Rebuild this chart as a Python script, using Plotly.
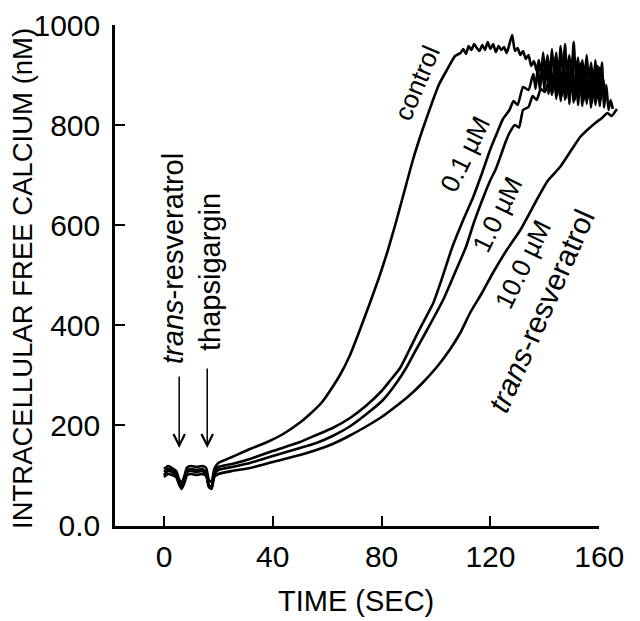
import plotly.graph_objects as go

# ---------------- data ----------------
ctrl_t = [0, 1.5, 3, 4.5, 5.5, 6.5, 7.5, 8.5, 10, 12, 14, 15.5, 16.5, 17.5, 18.5, 20,
          25, 31.6, 38, 43.8, 50, 53.7, 58, 61, 64.7, 68.4, 72, 75.7, 79, 82, 85, 88,
          91.5, 95, 98.5, 101, 104, 107, 109,
          110, 111, 112, 113, 114, 115, 116, 117, 118, 119, 120, 121, 122, 123, 124,
          125, 126, 127, 128, 129, 130, 131, 132, 133, 134, 135, 136, 137,
          137.8, 138.6, 139.4, 140.2, 141.0, 141.8, 142.6, 143.4, 144.2, 145.0, 145.8,
          146.6, 147.4, 148.2, 149.0, 149.8, 150.6, 151.4, 152.2, 153.0, 153.8, 154.6,
          155.4, 156.2, 157.0, 157.8, 158.6, 159.4, 160.2, 161.0]
ctrl_c = [112, 118, 114, 108, 92, 84, 98, 115, 118, 116, 118, 114, 90, 86, 112, 124,
          136, 152, 166, 182, 205, 222, 245, 268, 300, 340, 390, 444, 494, 544, 600, 660,
          730, 790, 844, 880, 910, 938, 944,
          952, 942, 958, 950, 962, 954, 948, 960, 950, 966, 952, 962, 946, 958, 950,
          956, 944, 962, 980, 948, 954, 940, 948, 932, 940, 918, 928, 908,
          930, 900, 945, 898, 940, 895, 952, 902, 945, 890, 958,
          905, 962, 898, 940, 895, 966, 900, 935, 888, 930, 892,
          940, 885, 925, 880, 930, 875, 915, 890]

r01_t = [0, 1.5, 3, 4.5, 5.5, 6.5, 7.5, 8.5, 10, 12, 14, 15.5, 16.5, 17.5, 18.5, 20,
         25, 31.6, 40, 50, 56, 62, 68.4, 74.6, 80, 83, 86.8, 90, 94, 99, 102, 106, 110,
         113.6, 117, 120, 122.5, 124.6, 127, 128.5, 130, 132, 134, 135.2,
         135.8, 136.6, 137.4, 138.2, 139.0, 139.8, 140.6, 141.4, 142.2, 143.0, 143.8,
         144.6, 145.4, 146.2, 147.0, 147.8, 148.6, 149.4, 150.2, 151.0, 151.8, 152.6,
         153.4, 154.2, 155.0, 155.8, 156.6, 157.4, 158.2, 159.0, 159.8, 160.6, 161.4, 162.2]
r01_c = [106, 112, 110, 104, 86, 78, 92, 110, 112, 110, 112, 106, 80, 76, 104, 116,
         122, 132, 148, 166, 180, 194, 214, 240, 268, 288, 314, 348, 392, 444, 490, 556, 610,
         655, 705, 752, 785, 812, 830, 848, 840, 876, 870, 892,
         902, 872, 915, 868, 925, 870, 930, 862, 920, 866, 935,
         860, 925, 858, 930, 855, 920, 862, 935, 850, 918, 855,
         925, 848, 910, 852, 912, 845, 905, 848, 900, 850, 892, 860]

r10_t = [0, 1.5, 3, 4.5, 5.5, 6.5, 7.5, 8.5, 10, 12, 14, 15.5, 16.5, 17.5, 18.5, 20,
         25, 31.6, 40, 50, 56, 62, 68, 74, 80.5, 85.7, 89, 92, 96.7, 102.6, 107, 111,
         114, 117, 120, 122, 124, 125.5, 127, 129, 130.5, 132, 134, 135.5, 137, 138.5,
         140, 141,
         141.8, 142.6, 143.4, 144.2, 145.0, 145.8, 146.6, 147.4, 148.2, 149.0, 149.8,
         150.6, 151.4, 152.2, 153.0, 153.8, 154.6, 155.4, 156.2, 157.0, 157.8, 158.6,
         159.4, 160.2, 161.0, 161.8, 162.6, 163.4, 164.2, 165.0]
r10_c = [100, 108, 106, 100, 84, 74, 88, 106, 108, 106, 108, 102, 78, 74, 100, 110,
         116, 124, 138, 154, 164, 178, 196, 220, 250, 286, 314, 344, 390, 450, 505, 556,
         606, 650, 690, 712, 742, 765, 784, 800, 795, 830, 836, 858, 850, 872,
         866, 880,
         890, 860, 905, 852, 900, 848, 910, 850, 902, 842, 915,
         845, 900, 840, 905, 838, 895, 842, 900, 835, 890, 840,
         918, 838, 925, 835, 880, 830, 850, 832]

r100_t = [0, 1.5, 3, 4.5, 5.5, 6.5, 7.5, 8.5, 10, 12, 14, 15.5, 16.5, 17.5, 18.5, 20,
          25, 31.6, 40, 50, 56, 62, 68, 74, 80, 84, 90, 95, 100, 105, 109, 112.5, 117,
          121, 126, 131, 137, 141, 145.6, 150, 153, 156, 159, 161, 163, 164.5, 166.5]
r100_c = [96, 102, 100, 96, 82, 72, 84, 100, 102, 100, 102, 98, 76, 72, 96, 102,
          108, 114, 126, 140, 150, 162, 178, 196, 216, 232, 258, 284, 314, 350, 385, 424, 465,
          505, 550, 590, 650, 688, 716, 752, 776, 792, 806, 814, 824, 818, 832]

x_ticks = [0, 40, 80, 120, 160]
y_ticks = [0, 200, 400, 600, 800, 1000]
y_tick_text = ["0.0", "200", "400", "600", "800", "1000"]

series = [
    ("control", ctrl_t, ctrl_c),
    ("0.1 µM", r01_t, r01_c),
    ("1.0 µM", r10_t, r10_c),
    ("10.0 µM", r100_t, r100_c),
]

FONT = "Liberation Sans, Arial, Helvetica, sans-serif"
X_MIN, X_DATA_MAX, X_AXIS_MAX = -18, 168, 160
# the page body adds an 8px offset; plot area is placed so it lands where the original is
ML, MT, PW, PH = 107, 17, 506, 501

fig = go.Figure()
for name, t, c in series:
    fig.add_trace(go.Scatter(x=t, y=c, mode="lines", name=name,
                             line=dict(color="black", width=2.6, shape="spline",
                                       smoothing=0.5),
                             showlegend=False, hoverinfo="skip"))
# empty traces to activate the visible time axes (they end at 160)
fig.add_trace(go.Scatter(x=[], y=[], xaxis="x2", yaxis="y", showlegend=False))
fig.add_trace(go.Scatter(x=[], y=[], xaxis="x3", yaxis="y", showlegend=False))

ann = []
# curve labels
for txt, x, y, size, ang in [("control", 93.0, 884, 26, -67), ("0.1 µM", 110.7, 742, 26, -64),
                             ("1.0 µM", 122.6, 622, 26, -64), ("10.0 µM", 131.8, 520, 26, -64),
                             ("<i>trans</i>-resveratrol", 138.5, 428, 30, -66)]:
    ann.append(dict(x=x, y=y, xref="x", yref="y", text=txt, showarrow=False,
                    textangle=ang, font=dict(family=FONT, size=size, color="black"),
                    xanchor="center", yanchor="middle"))
# addition labels (vertical)
for txt, x, y in [("<i>trans</i>-resveratrol", 3.3, 534), ("thapsigargin", 16.9, 506)]:
    ann.append(dict(x=x, y=y, xref="x", yref="y", text=txt, showarrow=False,
                    textangle=-90, font=dict(family=FONT, size=29, color="black"),
                    xanchor="center", yanchor="middle"))
# arrows
for x, y0 in [(5.6, 300), (15.9, 316)]:
    ann.append(dict(x=x, y=154, ax=x, ay=y0, xref="x", yref="y", axref="x", ayref="y",
                    text="", showarrow=True, arrowhead=5, arrowsize=1.5,
                    arrowwidth=1.5, arrowcolor="black"))
# axis titles
ann.append(dict(x=(356 - 8 - ML) / PW, y=(MT + PH - (601 - 8)) / PH, xref="paper", yref="paper",
                text="TIME (SEC)", showarrow=False,
                font=dict(family=FONT, size=29, color="black"),
                xanchor="center", yanchor="middle"))
ann.append(dict(x=(22 - 8 - ML) / PW, y=(MT + PH - (279 - 8)) / PH, xref="paper", yref="paper",
                text="INTRACELLULAR FREE CALCIUM (nM)", showarrow=False, textangle=-90,
                font=dict(family=FONT, size=27.5, color="black"),
                xanchor="center", yanchor="middle"))

span = X_DATA_MAX - X_MIN
axis_dom = [0, (X_AXIS_MAX - X_MIN) / span]
fig.update_layout(
    width=640, height=621,
    margin=dict(l=ML, r=640 - ML - PW, t=MT, b=621 - MT - PH),
    paper_bgcolor="white", plot_bgcolor="rgba(0,0,0,0)",
    annotations=ann,
    xaxis=dict(range=[X_MIN, X_DATA_MAX], domain=[0, 1], visible=False,
               automargin=False, showgrid=False, zeroline=False),
    # axis line + inside ticks
    xaxis2=dict(range=[X_MIN, X_AXIS_MAX], domain=axis_dom,
                anchor="y", tickvals=x_ticks, ticks="inside", ticklen=10,
                tickwidth=2, tickcolor="black", showline=True, linewidth=2.5,
                linecolor="black", showgrid=False, zeroline=False,
                showticklabels=False, automargin=False),
    # tick labels (pushed down by transparent outside ticks)
    xaxis3=dict(range=[X_MIN, X_AXIS_MAX], domain=axis_dom,
                anchor="y", tickvals=x_ticks, ticks="outside", ticklen=4,
                tickcolor="rgba(0,0,0,0)", showline=False, showgrid=False,
                zeroline=False, automargin=False,
                tickfont=dict(family=FONT, size=30, color="black")),
    yaxis=dict(range=[-2, 1000], tickvals=y_ticks, ticktext=y_tick_text,
               ticks="inside", ticklen=10, tickwidth=2, tickcolor="black",
               showline=True, linewidth=2.5, linecolor="black", showgrid=False,
               zeroline=False, automargin=False, ticklabelstandoff=6,
               tickfont=dict(family=FONT, size=30, color="black")),
)

fig.write_html("out.html")
